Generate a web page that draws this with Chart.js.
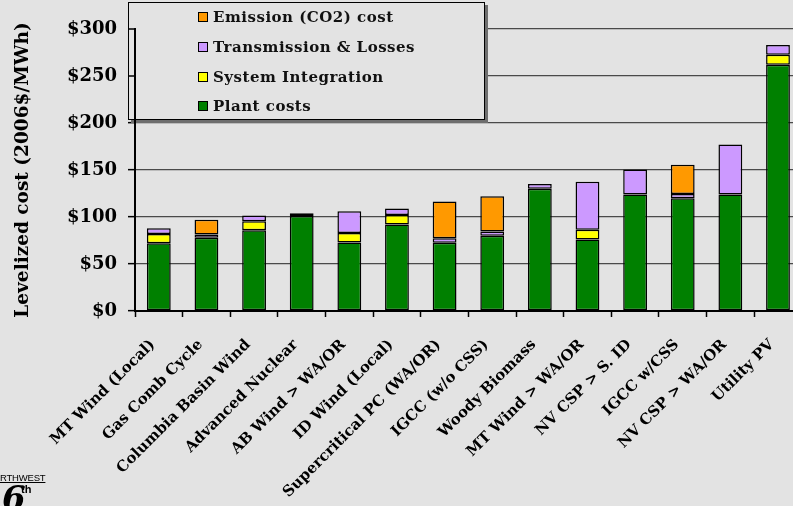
<!DOCTYPE html>
<html><head><meta charset="utf-8">
<script src="https://cdn.jsdelivr.net/npm/chart.js@4.4.0/dist/chart.umd.min.js"></script>
<style>
html,body{margin:0;padding:0;background:#e3e3e3;overflow:hidden;width:793px;height:506px;}
#wrap{position:absolute;left:0;top:0;width:810px;height:506px;}
#nw{position:absolute;left:0;top:472px;font:9.5px 'Liberation Sans',sans-serif;color:#000;text-decoration:underline;letter-spacing:-0.2px;line-height:11px;}
#six{position:absolute;left:2px;top:481px;font:bold italic 34px 'DejaVu Serif',serif;color:#000;line-height:34px;}
#th{position:absolute;left:21px;top:483px;font:bold 11px 'Liberation Sans Narrow','Liberation Sans',sans-serif;color:#000;line-height:12px;}
</style></head><body>
<div id="wrap"><canvas id="c" width="810" height="506" style="width:810px;height:506px"></canvas></div>
<div id="nw">RTHWEST</div>
<div id="six">6</div><div id="th">th</div>
<script>
const categories = ['MT Wind (Local)','Gas Comb Cycle','Columbia Basin Wind','Advanced Nuclear','AB Wind > WA/OR','ID Wind (Local)','Supercritical PC (WA/OR)','IGCC (w/o CSS)','Woody Biomass','MT Wind > WA/OR','NV CSP > S. ID','IGCC w/CSS','NV CSP > WA/OR','Utility PV'];
const plantCosts        = [72, 78, 86, 101, 73, 92, 72.5, 80, 130, 76, 124, 120, 124, 262];
const systemIntegration = [10, null, 9.5, null, 10, 10, null, null, null, 10.5, null, null, null, 10.5];
const transmission      = [6, 3.5, 6, 3, 23, 7, 5, 4.5, 5, 51, 26.5, 4.5, 53, 10.5];
const emissionCost      = [null, 15.5, null, null, null, null, 39, 37.5, null, null, null, 31, null, null];
const seriesNames  = ['Plant costs','System Integration','Transmission & Losses','Emission (CO2) cost'];
const seriesColors = ['#008000','#ffff00','#cc99ff','#ff9900'];
const yTickValues  = [0, 50, 100, 150, 200, 250, 300];
const yTickLabels  = ['$0','$50','$100','$150','$200','$250','$300'];
const yTitle = 'Levelized cost (2006$/MWh)';

const seriesData = [plantCosts, systemIntegration, transmission, emissionCost];

const legendPlugin = {
  id: 'boxLegend',
  afterDatasetsDraw(chart){
    const ctx = chart.ctx;
    ctx.save();
    const x0 = 128, y0 = 2, x1 = 485, y1 = 120;
    ctx.fillStyle = '#6e6e6e';
    ctx.fillRect(x0 + 3, y0 + 3, x1 - x0, y1 - y0);
    ctx.fillStyle = '#e3e3e3';
    ctx.fillRect(x0, y0, x1 - x0, y1 - y0);
    ctx.strokeStyle = '#000';
    ctx.lineWidth = 1;
    ctx.strokeRect(x0 + 0.5, y0 + 0.5, x1 - x0 - 1, y1 - y0 - 1);
    ctx.font = 'bold 15px "DejaVu Serif"';
    ctx.textBaseline = 'middle';
    if ('letterSpacing' in ctx) ctx.letterSpacing = '0.5px';
    const rows = [17, 47, 77, 106];
    for (let k = 0; k < 4; k++) {
      const s = 3 - k;
      const cy = rows[k];
      ctx.fillStyle = seriesColors[s];
      ctx.fillRect(198, cy - 5, 10, 10);
      ctx.strokeStyle = '#000';
      ctx.strokeRect(198.5, cy - 4.5, 9, 9);
      ctx.fillStyle = '#111';
      ctx.fillText(seriesNames[s], 213, cy + 1);
    }
    const ys = chart.scales.y;
    ctx.strokeStyle = '#000';
    ctx.lineWidth = 1.5;
    ys.ticks.forEach(t => {
      const py = ys.getPixelForValue(t.value);
      if (py < y1) {
        ctx.beginPath();
        ctx.moveTo(ys.right - 7, py);
        ctx.lineTo(ys.right, py);
        ctx.stroke();
      }
    });
    ctx.restore();
  }
};

new Chart(document.getElementById('c'), {
  type: 'bar',
  data: {
    labels: categories,
    datasets: seriesData.map((d, i) => ({
      label: seriesNames[i],
      data: d,
      backgroundColor: seriesColors[i],
      borderColor: '#000',
      borderWidth: 1.5,
      borderSkipped: false,
      inflateAmount: 0,
      categoryPercentage: 1,
      barPercentage: 0.5
    }))
  },
  options: {
    responsive: false,
    animation: false,
    devicePixelRatio: 1,
    layout: { padding: { top: 29, right: 8, bottom: 0, left: 0 } },
    plugins: { legend: { display: false }, tooltip: { enabled: false } },
    scales: {
      x: {
        stacked: true,
        offset: true,
        grid: { display: true, drawOnChartArea: false, drawTicks: true, tickLength: 6, tickColor: '#000', tickWidth: 1.5 },
        border: { display: true, color: '#000', width: 2, z: 1 },
        ticks: {
          autoSkip: false, minRotation: 45, maxRotation: 45,
          color: '#000', padding: 19, labelOffset: -6,
          font: { family: 'DejaVu Serif', size: 15, weight: 'bold' }
        },
        afterFit(s){ s.height = 195; }
      },
      y: {
        stacked: true,
        min: 0, max: 300,
        afterBuildTicks(s){ s.ticks = yTickValues.map(v => ({ value: v })); },
        grid: { color: '#4a4a4a', lineWidth: 1.3, tickLength: 7, tickColor: '#000', tickWidth: 1.5 },
        border: { display: true, color: '#000', width: 2, z: 1 },
        ticks: {
          color: '#000', padding: 11,
          font: { family: 'DejaVu Serif', size: 18, weight: 'bold' },
          callback: (v) => yTickLabels[yTickValues.indexOf(v)]
        },
        title: {
          display: true, text: yTitle, color: '#000',
          font: { family: 'DejaVu Serif', size: 18.5, weight: 'bold' },
          padding: { top: 12, bottom: 0 }
        },
        afterFit(s){ s.width = 135; }
      }
    }
  },
  plugins: [legendPlugin]
});
</script>
</body></html>
